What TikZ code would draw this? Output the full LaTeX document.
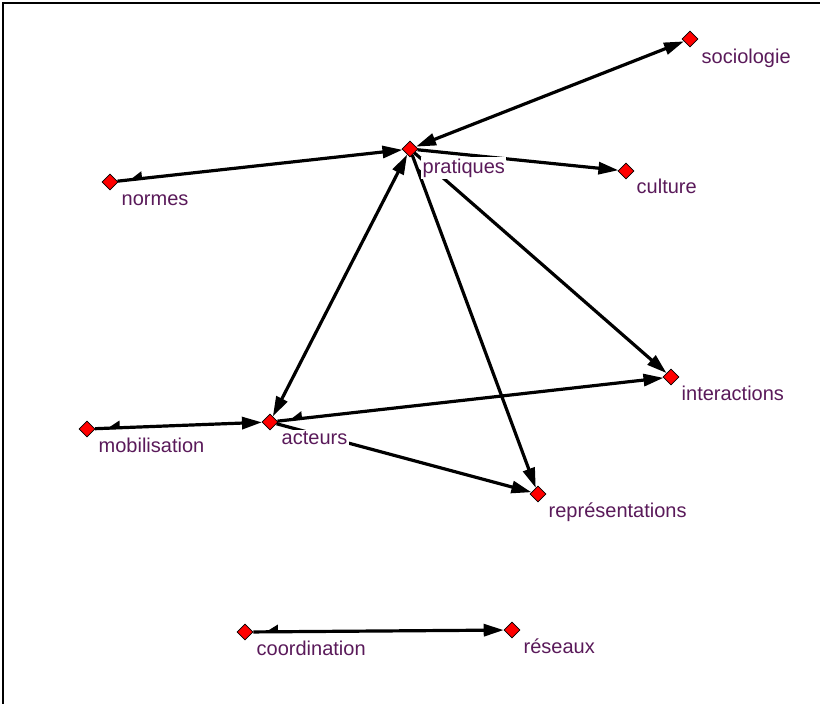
\documentclass[tikz,border=0pt]{standalone}
\usepackage{fontspec}
\setmainfont{Liberation Sans}
\usetikzlibrary{shapes.geometric,arrows.meta,decorations.markings}
\definecolor{lbl}{RGB}{90,26,90}
\begin{document}
\begin{tikzpicture}[x=1pt,y=-1pt,
  vtx/.style={diamond, fill=red, draw=black, line width=0.7pt, minimum size=16pt, inner sep=0pt},
  lab/.style={anchor=base west, fill=white, inner sep=1.5pt, text=lbl, font=\fontsize{20}{20}\selectfont},
  edge/.style={line width=3.2pt, draw=black},
  big/.tip={Triangle[length=20pt,width=12pt]},
  small/.style={postaction={decorate, decoration={markings,
     mark=at position 11pt with {\arrowreversed[line width=2pt]{Triangle[harpoon,length=12pt,width=14pt]}}}}}
]
\useasboundingbox (0,0) rectangle (820,704);
\fill[white] (0,0) rectangle (820,704);
\draw[line width=2.5pt] (3,704) -- (3,3) -- (820,3);

\node[vtx] (soc) at (690,39) {};
\node[vtx] (pra) at (410,149) {};
\node[vtx] (cul) at (626,171) {};
\node[vtx] (nor) at (110,182) {};
\node[vtx] (int) at (671,377) {};
\node[vtx] (mob) at (87,429) {};
\node[vtx] (act) at (270,422) {};
\node[vtx] (rep) at (538,494) {};
\node[vtx] (coo) at (245,632) {};
\node[vtx] (res) at (512,630) {};

\draw[edge, big-big] (pra) -- (soc);
\draw[edge, -big, small] (nor) -- (pra);
\draw[edge, -big] (pra) -- (cul);
\draw[edge, big-big] (act) -- (pra);
\draw[edge, -big, small] (pra) -- (rep);
\draw[edge, -big] (pra) -- (int);
\draw[edge, -big, small] (act) -- (int);
\draw[edge, -big, small] (mob) -- (act);
\draw[edge, -big] (act) -- (rep);
\draw[edge, -big, small] (coo) -- (res);

\node[lab] (Lsoc) at (700,63) {sociologie};
\node[lab] (Lpra) at (421,173) {pratiques};
\node[lab] (Lcul) at (635,193) {culture};
\node[lab] (Lnor) at (120,205) {normes};
\node[lab] (Lmob) at (97,452) {mobilisation};
\node[lab] (Lact) at (280,444) {acteurs};
\node[lab] (Lint) at (680,400) {interactions};
\node[lab] (Lrep) at (547,517) {représentations};
\node[lab] (Lcoo) at (255,655) {coordination};
\node[lab] (Lres) at (522,653) {réseaux};
\end{tikzpicture}
\end{document}
